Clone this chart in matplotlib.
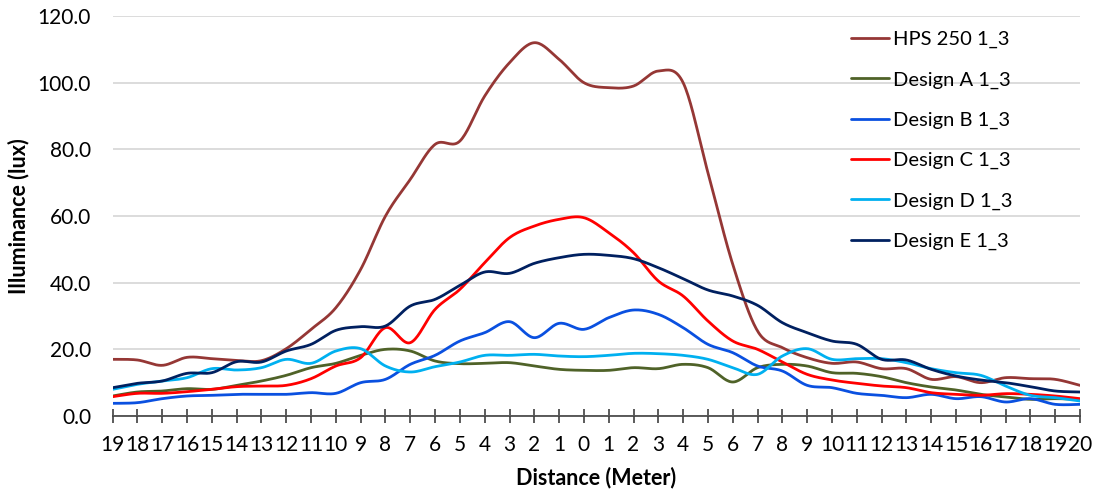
import numpy as np
import matplotlib
matplotlib.use("Agg")
import matplotlib.pyplot as plt

plt.rcParams['font.family'] = ['Lato', 'DejaVu Sans']

# distance labels (meters) on the x axis
distance = [str(d) for d in range(19, 0, -1)] + ['0'] + [str(d) for d in range(1, 21)]

hps = [17.0, 16.8, 15.2, 17.6, 17.2, 16.7, 16.6, 20.2, 26.0, 32.5,
       44.0, 60.0, 71.0, 81.5, 82.5, 96.0, 106.0, 112.0, 107.0, 100.0,
       98.5, 99.0, 103.5, 100.0, 73.0, 45.5, 25.5, 20.5, 17.5, 15.8,
       16.2, 14.2, 14.2, 11.0, 11.8, 10.0, 11.5, 11.2, 11.0, 9.2]
design_a = [6.0, 7.2, 7.5, 8.2, 8.0, 9.2, 10.5, 12.2, 14.5, 15.8,
            18.2, 20.0, 19.5, 16.5, 15.7, 15.8, 16.0, 15.0, 14.0, 13.7,
            13.7, 14.5, 14.2, 15.5, 14.5, 10.2, 14.5, 15.5, 15.0, 13.0,
            12.8, 11.8, 10.0, 8.7, 7.8, 6.5, 5.7, 5.0, 5.2, 5.0]
design_b = [3.8, 4.0, 5.2, 6.0, 6.2, 6.5, 6.5, 6.5, 7.0, 6.8,
            10.0, 11.0, 15.5, 18.2, 22.5, 25.0, 28.3, 23.5, 27.8, 26.0,
            29.5, 31.8, 30.5, 26.5, 21.5, 19.0, 15.0, 13.5, 9.2, 8.5,
            6.8, 6.2, 5.5, 6.5, 5.2, 5.8, 4.2, 5.2, 3.5, 3.5]
design_c = [5.8, 6.8, 6.8, 7.3, 8.0, 8.8, 9.0, 9.2, 11.2, 15.0,
            17.5, 26.5, 22.0, 32.0, 38.0, 46.0, 53.5, 57.0, 59.0, 59.5,
            55.0, 49.0, 40.5, 36.0, 28.5, 22.5, 20.0, 16.2, 12.5, 10.8,
            9.8, 9.0, 8.5, 7.0, 6.5, 6.2, 6.7, 6.5, 6.0, 5.2]
design_d = [8.0, 9.5, 10.5, 11.5, 14.2, 13.8, 14.5, 17.0, 15.8, 19.5,
            20.2, 15.0, 13.2, 14.8, 16.2, 18.2, 18.2, 18.5, 18.0, 17.8,
            18.2, 18.8, 18.7, 18.2, 17.0, 14.5, 12.5, 18.0, 20.2, 17.0,
            17.2, 17.2, 16.0, 14.2, 13.0, 12.2, 9.0, 6.2, 5.5, 4.5]
design_e = [8.5, 9.8, 10.5, 12.8, 13.0, 16.3, 16.2, 19.5, 21.5, 25.7,
            26.8, 27.0, 33.0, 35.0, 39.2, 43.2, 42.8, 45.8, 47.5, 48.5,
            48.2, 47.2, 44.5, 41.2, 37.8, 36.0, 33.2, 28.0, 25.0, 22.5,
            21.5, 17.0, 16.8, 14.0, 12.0, 10.8, 10.0, 8.8, 7.5, 7.2]

series = [("HPS 250 1_3", hps, "#953735"),
          ("Design A 1_3", design_a, "#4F6228"),
          ("Design B 1_3", design_b, "#0A50E0"),
          ("Design C 1_3", design_c, "#FF0000"),
          ("Design D 1_3", design_d, "#00B0F0"),
          ("Design E 1_3", design_e, "#002060")]


def smooth(y, n=20):
    # Catmull-Rom curve through the points, like Excel's smoothed line
    y = np.asarray(y, float)
    x = np.arange(len(y), dtype=float)
    p = np.concatenate([[y[0]], y, [y[-1]]])
    px = np.concatenate([[x[0]], x, [x[-1]]])
    xs, ys = [], []
    t = np.linspace(0, 1, n, endpoint=False)
    for i in range(1, len(p) - 2):
        for arr, out in ((px, xs), (p, ys)):
            p0, p1, p2, p3 = arr[i - 1], arr[i], arr[i + 1], arr[i + 2]
            out.append(0.5 * (2 * p1 + (-p0 + p2) * t
                              + (2 * p0 - 5 * p1 + 4 * p2 - p3) * t ** 2
                              + (-p0 + 3 * p1 - 3 * p2 + p3) * t ** 3))
    xs.append([x[-1]]); ys.append([y[-1]])
    return np.concatenate(xs), np.concatenate(ys)


fig = plt.figure(figsize=(10.98, 4.95), dpi=100)
ax = fig.add_axes([0.1026, 0.1596, 0.881, 0.808])

for name, vals, col in series:
    sx, sy = smooth(vals)
    ax.plot(sx, sy, color=col, lw=2.0, label=name, solid_capstyle='round')

ax.set_xlim(0, len(distance) - 1)
ax.set_ylim(0, 120)
ax.set_yticks(np.arange(0, 121, 20))
ax.set_yticklabels([f"{v:.1f}" for v in np.arange(0, 121, 20)], fontsize=15)
ax.set_xticks(range(len(distance)))
ax.set_xticklabels(distance, fontsize=15)
ax.yaxis.grid(True, color='#D9D9D9', lw=1.3)
ax.set_axisbelow(True)
for s in ['top', 'right', 'left']:
    ax.spines[s].set_visible(False)
ax.spines['bottom'].set_color('#404040')
ax.spines['bottom'].set_linewidth(1.2)
ax.tick_params(axis='y', length=0, pad=15.5)
ax.tick_params(axis='x', direction='inout', length=10, width=1.2, color='#404040', pad=9)

ax.set_ylabel('Illuminance (lux)', fontsize=15.5, fontweight='bold', labelpad=6)
ax.set_xlabel('Distance (Meter)', fontsize=15.5, fontweight='bold', labelpad=8)

leg = ax.legend(loc='upper left', bbox_to_anchor=(851 / 1098, 1 - 31 / 495),
                bbox_transform=fig.transFigure, frameon=False, borderpad=0,
                borderaxespad=0, fontsize=14.5, labelspacing=1.14,
                handlelength=1.9, handletextpad=0.2)

fig.savefig('out.png', dpi=100)
